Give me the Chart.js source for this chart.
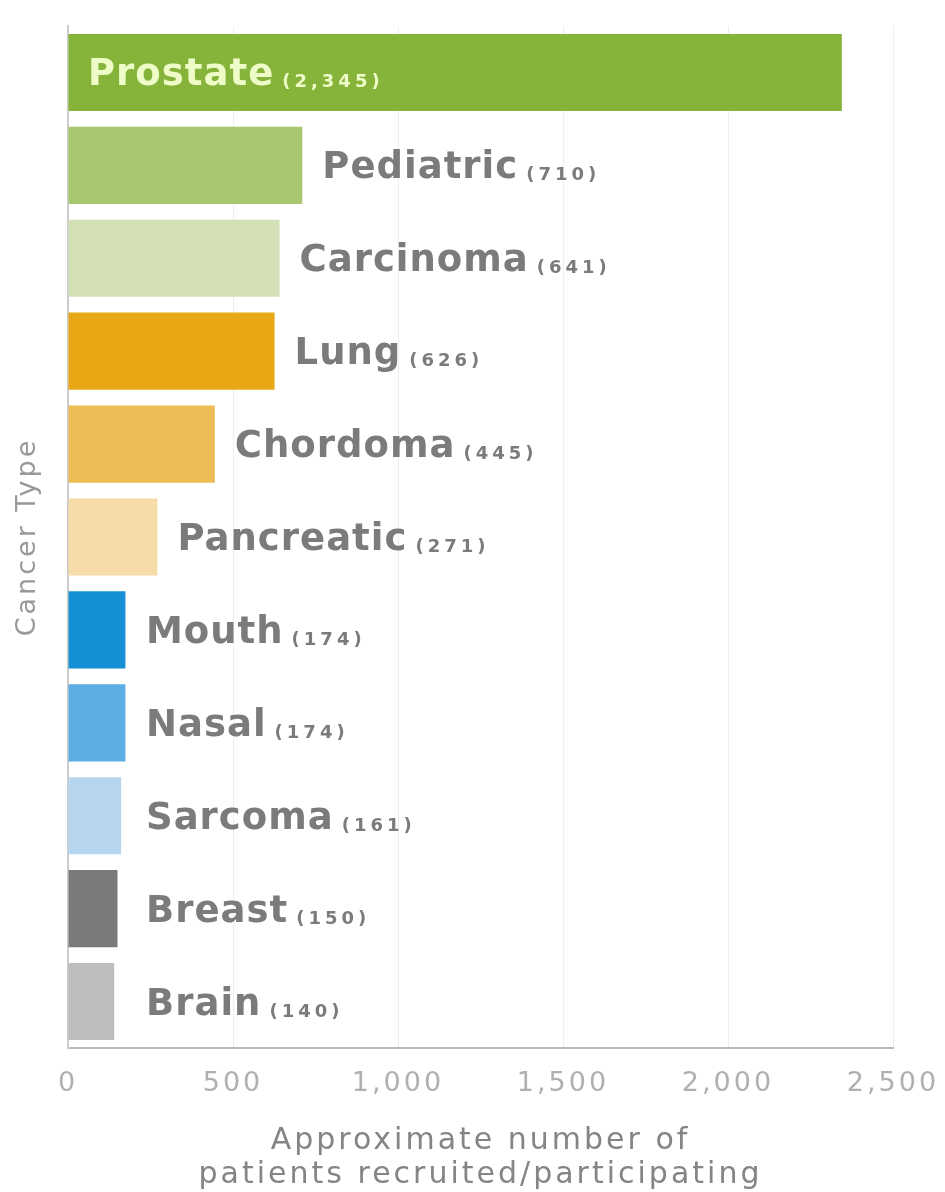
<!DOCTYPE html>
<html>
<head>
<meta charset="utf-8">
<title>Patients by cancer type</title>
<script src="https://cdn.jsdelivr.net/npm/chart.js@4.4.1/dist/chart.umd.min.js"></script>
<style>
    html, body { margin: 0; padding: 0; background: #fff; }
    #wrap { position: relative; width: 945px; height: 1192px; }
</style>
</head>
<body>
<div id="wrap"><canvas id="cancerChart"></canvas></div>
<script>
/* Horizontal bar chart: approximate patients per cancer type */

const cancerTypes = ['Prostate', 'Pediatric', 'Carcinoma', 'Lung', 'Chordoma', 'Pancreatic',
    'Mouth', 'Nasal', 'Sarcoma', 'Breast', 'Brain'];
const patientCounts = [2345, 710, 641, 626, 445, 271, 174, 174, 161, 150, 140];
const xTitleLines = ['Approximate number of', 'patients recruited/participating'];
const yTitle = 'Cancer Type';

const BAR_COLORS = [
    '#86b43a', '#a9c76f', '#d3dfb5',
    '#e8a815', '#ecbd55', '#f5dca8',
    '#1590d4', '#5cade4', '#b6d6f0',
    '#7a7a7a', '#bdbdbd',
];

const FONT = '"DejaVu Sans", Verdana, sans-serif';
const LABEL_GREY = '#7b7b7b';
const NAME_FONT = 'bold 37px ' + FONT;
const COUNT_FONT = 'bold 18px ' + FONT;

// letter spacing for all text the library draws
const trackingPlugin = {
    id: 'tracking',
    beforeDraw(chart) {
        chart.ctx.letterSpacing = '3px';
    },
};

// name + (count) next to each bar, inside the bar when it would not fit outside
const barLabelPlugin = {
    id: 'barLabels',
    afterDatasetsDraw(chart) {
        const ctx = chart.ctx;
        const meta = chart.getDatasetMeta(0);
        const area = chart.chartArea;
        ctx.save();
        ctx.textBaseline = 'alphabetic';
        ctx.textAlign = 'left';
        meta.data.forEach((bar, i) => {
            const name = cancerTypes[i];
            const count = '(' + patientCounts[i].toLocaleString('en-US') + ')';

            ctx.font = NAME_FONT;
            ctx.letterSpacing = '1px';
            const nameW = ctx.measureText(name).width;
            ctx.font = COUNT_FONT;
            ctx.letterSpacing = '4px';
            const countW = ctx.measureText(count).width;
            const total = nameW + 8 + countW;

            let x = Math.max(bar.x + 20, area.left + 78);
            let color = LABEL_GREY;
            if (x + total > area.right) {
                x = area.left + 20;
                color = '#eefcc8';
            }

            ctx.fillStyle = color;
            ctx.font = NAME_FONT;
            ctx.letterSpacing = '1px';
            ctx.fillText(name, x, bar.y + 13);
            ctx.font = COUNT_FONT;
            ctx.letterSpacing = '4px';
            ctx.fillText(count, x + nameW + 8, bar.y + 15);
        });
        ctx.restore();
    },
};

new Chart(document.getElementById('cancerChart'), {
    type: 'bar',
    data: {
        labels: cancerTypes,
        datasets: [{
            data: patientCounts,
            backgroundColor: BAR_COLORS,
            borderWidth: 0,
            barPercentage: 0.83,
            categoryPercentage: 1,
        }],
    },
    options: {
        indexAxis: 'y',
        responsive: true,
        maintainAspectRatio: false,
        animation: false,
        layout: { padding: { top: 26, right: 52, left: 10, bottom: 0 } },
        plugins: {
            legend: { display: false },
            tooltip: { enabled: false },
        },
        scales: {
            x: {
                min: 0,
                max: 2500,
                ticks: {
                    stepSize: 500,
                    font: { family: FONT, size: 27 },
                    color: '#b0b0b0',
                    padding: 20,
                    callback: v => v.toLocaleString('en-US'),
                },
                grid: { color: '#eeeeee', lineWidth: 1, drawTicks: false },
                border: { color: '#bbbbbb', width: 2 },
                title: {
                    display: true,
                    text: xTitleLines,
                    font: { family: FONT, size: 30, lineHeight: 1.13 },
                    color: '#858585',
                    padding: { top: 12, bottom: 0 },
                },
                afterFit(scale) {
                    scale.height = 144;
                    scale.paddingLeft = 0;
                    scale.paddingRight = 0;
                },
            },
            y: {
                ticks: { display: false },
                grid: { display: false, drawTicks: false },
                border: { color: '#cccccc', width: 2 },
                title: {
                    display: true,
                    text: yTitle,
                    font: { family: FONT, size: 27 },
                    color: '#999999',
                    padding: { top: 2, bottom: 0 },
                },
                afterFit(scale) { scale.width = 58; },
            },
        },
    },
    plugins: [trackingPlugin, barLabelPlugin],
});
</script>
</body>
</html>
